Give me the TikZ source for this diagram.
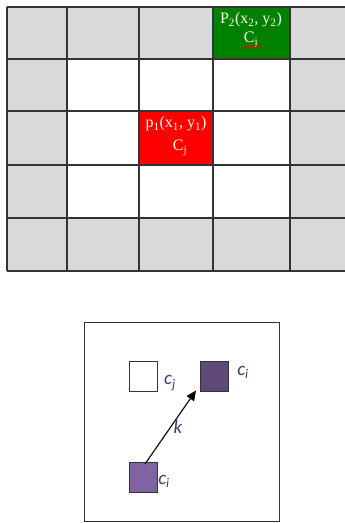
\documentclass[tikz,border=0pt]{standalone}
\usepackage{fontspec}
\setmainfont{Liberation Serif}
\newfontfamily\calib{Carlito}
\usetikzlibrary{arrows.meta,decorations.pathmorphing}
\definecolor{cellgray}{HTML}{D9D9D9}
\definecolor{cellgreen}{HTML}{008000}
\definecolor{cellred}{HTML}{FF0000}
\definecolor{gridline}{HTML}{333333}
\definecolor{darkpurple}{HTML}{5F497A}
\definecolor{lightpurple}{HTML}{8064A2}
\definecolor{cream}{HTML}{FFFBE8}
\definecolor{labelblue}{HTML}{3A3F6E}
\tikzset{
  celltext/.style={text=cream, font=\fontsize{16}{16}\selectfont, inner sep=0pt},
  sq/.style={draw=gridline, line width=1pt, minimum width=28pt, minimum height=30pt, inner sep=0pt},
  lbl/.style={text=labelblue, font=\calib\itshape\fontsize{19}{19}\selectfont, inner sep=0pt}
}
\begin{document}
\begin{tikzpicture}[x=1pt,y=-1pt]
\useasboundingbox (0,0) rectangle (345,523);
% grid fills
\fill[cellgray] (7,7) rectangle (345,271);
\fill[white] (67,59) rectangle (290,218);
\fill[cellred] (139,111) rectangle (213,165);
\fill[cellgreen] (213,7) rectangle (290,59);
% grid lines
\begin{scope}[draw=gridline, line width=1.2pt]
\foreach \x in {7,67,139,213,290} \draw (\x,7) -- (\x,271);
\foreach \y in {7,59,111,165,218,271} \draw (7,\y) -- (345,\y);
\end{scope}
% cell texts
\node[celltext] (p1) at (176,124) {p\textsubscript{1}(x\textsubscript{1}, y\textsubscript{1})};
\node[celltext] (c1) at (180,148) {C\textsubscript{j}};
\node[celltext] (p2) at (251,20) {P\textsubscript{2}(x\textsubscript{2}, y\textsubscript{2})};
\node[celltext] (c2) at (251,40) {C\textsubscript{j}};
\coordinate (zz1) at (244,47);
\coordinate (zz2) at (261,47);
\draw[red, line width=0.6pt, decorate, decoration={zigzag, amplitude=1.2pt, segment length=3pt}] (zz1) -- (zz2);
% bottom panel
\draw[gridline, line width=1pt] (84,322) rectangle (279,521);
\node[sq, fill=white] (cj) at (143,376) {};
\node[sq, fill=darkpurple] (ci2) at (214.5,376) {};
\node[sq, fill=lightpurple] (ci1) at (143,477.5) {};
\node[lbl] (lcj) at (170,383) {c\textsubscript{j}};
\node[lbl] (lci2) at (243,372) {c\textsubscript{i}};
\node[lbl] (lci1) at (164,481) {c\textsubscript{i}};
\draw[-{Triangle[length=10pt,width=9pt]}, line width=1.1pt, black] ([xshift=2pt,yshift=-2pt]ci1.north) -- ([xshift=-4pt,yshift=1pt]ci2.south west);
\node[lbl] (k) at (178,427) {k};
\end{tikzpicture}
\end{document}
